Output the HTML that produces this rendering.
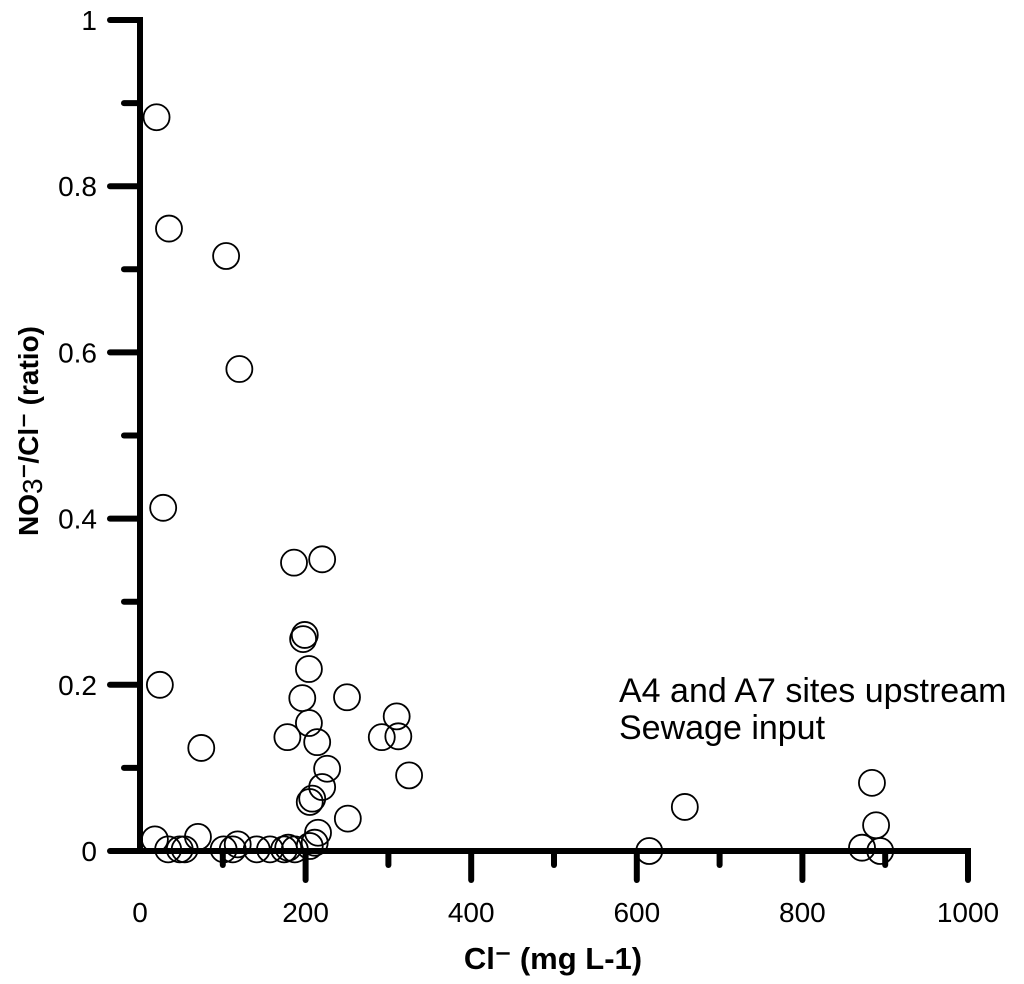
<!DOCTYPE html>
<html><head><meta charset="utf-8"><style>
html,body{margin:0;padding:0;background:#fff;}
svg{display:block;font-family:"Liberation Sans",Arial,sans-serif;}
</style></head><body>
<svg id="chart" width="1024" height="984" viewBox="0 0 1024 984">
<g id="axes"></g>
<g id="pts"></g>
<text x="619" y="702" font-size="34">A4 and A7 sites upstream</text>
<text x="619" y="739" font-size="34">Sewage input</text>
<text x="553" y="969" font-size="31" font-weight="bold" text-anchor="middle">Cl⁻ (mg L-1)</text>
<text transform="translate(38,431) rotate(-90)" font-size="28" font-weight="bold" text-anchor="middle">NO<tspan font-weight="normal" dy="4">3</tspan><tspan dy="-4">⁻/Cl⁻ (ratio)</tspan></text>
</svg>
<script>
const xVals=[20,35,104,120,28,24,74,18,34,48,54,70,101,112,118,141,157,174,179,187,199,197,204,196,204,178,214,226,220,208,205,215,211,205,250,310,292,312,325,251,186,220,615,658,872,884,889,894];
const yVals=[0.883,0.749,0.716,0.580,0.413,0.200,0.124,0.014,0.002,0.002,0.002,0.017,0.002,0.002,0.008,0.002,0.002,0.002,0.004,0.002,0.26,0.255,0.219,0.184,0.154,0.137,0.131,0.099,0.077,0.063,0.059,0.022,0.010,0.006,0.185,0.162,0.137,0.138,0.091,0.039,0.347,0.351,0.0,0.053,0.004,0.082,0.031,0.0];
const xTicks=[0,200,400,600,800,1000];
const yTicks=[0,0.2,0.4,0.6,0.8,1];
const NS="http://www.w3.org/2000/svg";
const X0=140,X1=968,Y0=851,Y1=20;
function sx(v){return X0+(v/1000)*(X1-X0);}
function sy(v){return Y0-v*(Y0-Y1);}
const ax=document.getElementById('axes');
function mk(tag,attrs,parent){const e=document.createElementNS(NS,tag);for(const k in attrs)e.setAttribute(k,attrs[k]);parent.appendChild(e);return e;}
let l=mk('line',{x1:X0,y1:Y0,x2:X1+3,y2:Y0,stroke:'#000','stroke-width':6},ax);


l=mk('line',{x1:X0,y1:Y0+3,x2:X0,y2:Y1-3,stroke:'#000','stroke-width':6},ax);


for(let v=100;v<=1000;v+=100){const major=v%200===0;
const t=mk('line',{x1:sx(v),y1:Y0,x2:sx(v),y2:Y0+(major?29:14),stroke:'#000','stroke-width':6,'stroke-linecap':'round'},ax);

}
for(let i=0;i<=10;i++){const v=i/10;const major=i%2===0;
const t=mk('line',{x1:X0,y1:sy(v),x2:X0-(major?30:16),y2:sy(v),stroke:'#000','stroke-width':6,'stroke-linecap':'round'},ax);

}
xTicks.forEach(v=>{const t=mk('text',{x:sx(v),y:922,'font-size':28,'text-anchor':'middle'},ax);t.textContent=String(v);

});
yTicks.forEach(v=>{const t=mk('text',{x:97,y:sy(v)+10,'font-size':28,'text-anchor':'end'},ax);t.textContent=String(v);

});
const pg=document.getElementById('pts');
xVals.forEach((x,i)=>{const c=mk('circle',{cx:sx(x),cy:sy(yVals[i]),r:13,fill:'none',stroke:'#000','stroke-width':1.8},pg);

});
</script>
</body></html>
